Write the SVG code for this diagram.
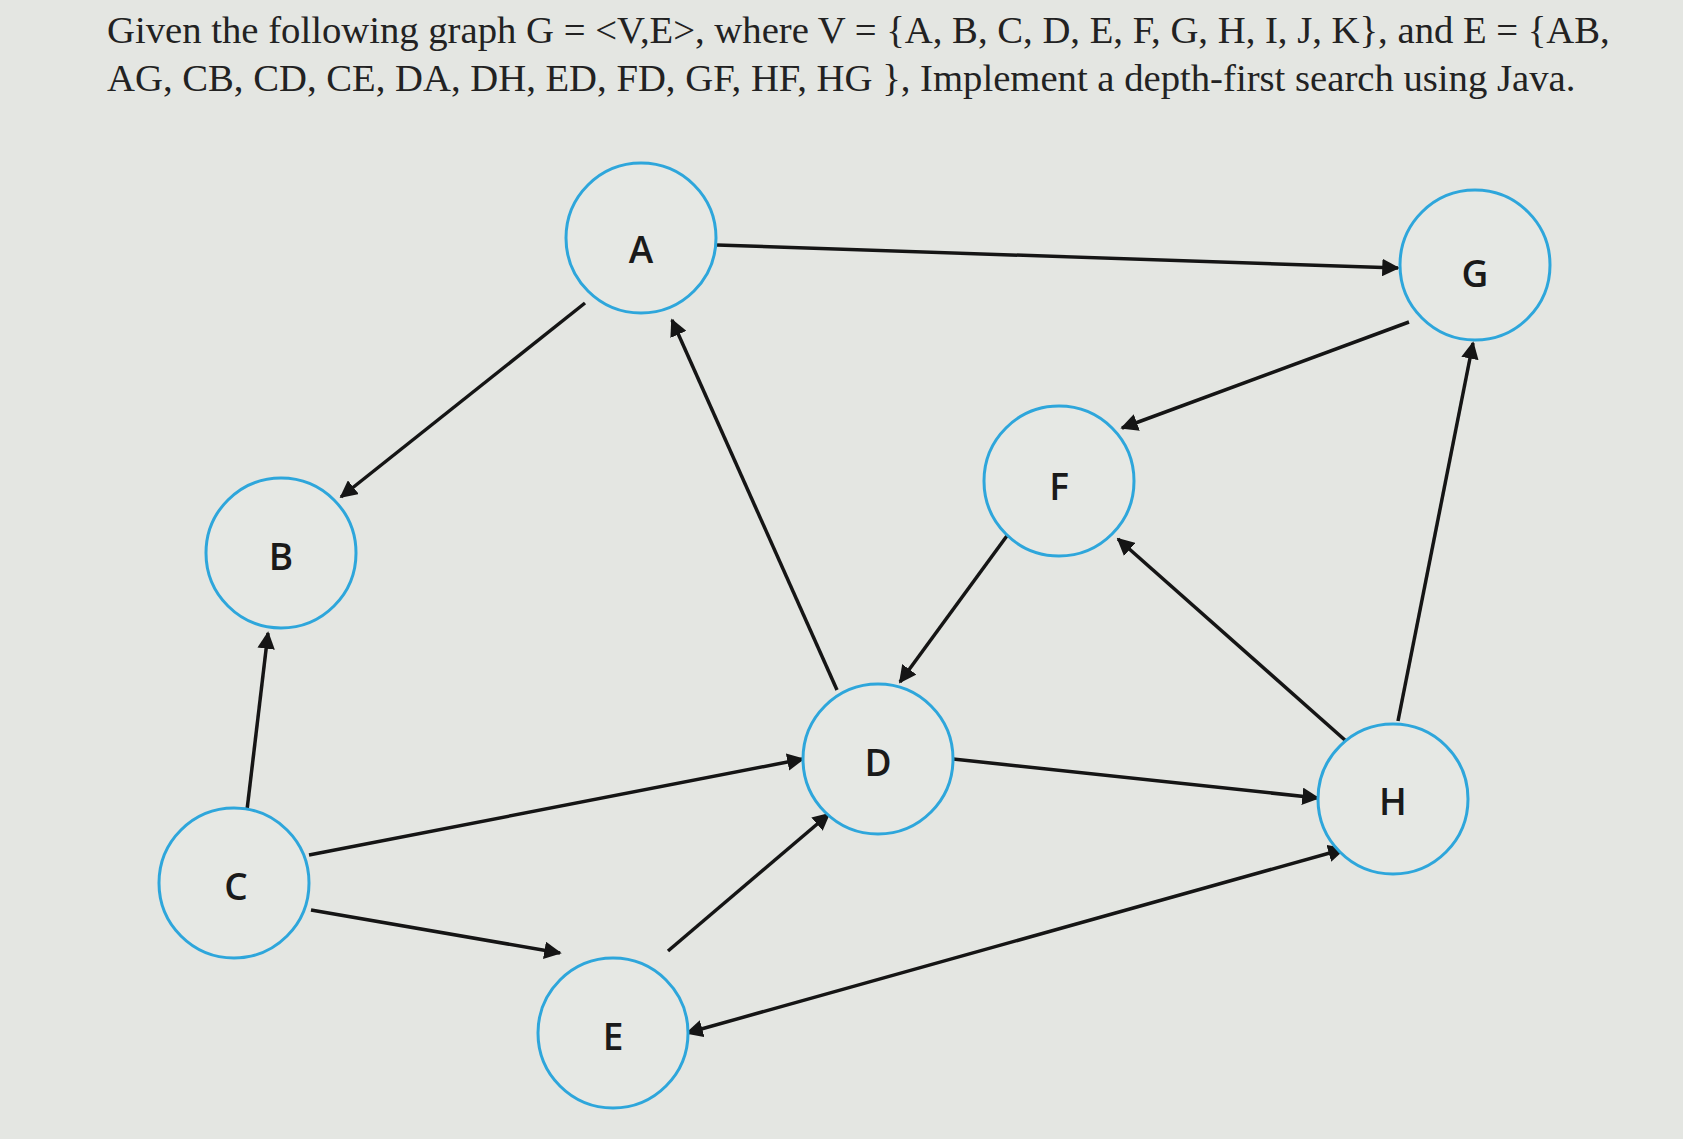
<svg xmlns="http://www.w3.org/2000/svg" width="1683" height="1139" viewBox="0 0 1683 1139">
<style>
.n{fill:#e6e8e4;stroke:#2ea6db;stroke-width:3}
.l{font-family:"Open Sans","DejaVu Sans",sans-serif;font-size:37px;font-weight:600;fill:#1a1a1a;text-anchor:middle;dominant-baseline:central}
.e{stroke:#151515;stroke-width:3.5;fill:none;marker-end:url(#ah)}
.t{font-family:"Liberation Serif",serif;font-size:38.7px;fill:#222}
</style>
<defs><marker id="ah" viewBox="0 0 10 10" refX="9" refY="5" markerWidth="5" markerHeight="5" orient="auto-start-reverse"><path d="M0,0L10,5L0,10z" fill="#151515"/></marker></defs>
<rect width="1683" height="1139" fill="#e4e6e2"/>
<text class="t" x="107" y="43">Given the following graph G = &lt;V,E&gt;, where V = {A, B, C, D, E, F, G, H, I, J, K}, and E = {AB,</text>
<text class="t" x="107" y="91">AG, CB, CD, CE, DA, DH, ED, FD, GF, HF, HG }, Implement a depth-first search using Java.</text>
<g id="connectors">
<line class="e" x1="585" y1="303" x2="341" y2="497"/>
<line class="e" x1="717" y1="245" x2="1398" y2="268"/>
<line class="e" x1="247" y1="810" x2="268" y2="633"/>
<line class="e" x1="309" y1="855" x2="803" y2="759"/>
<line class="e" x1="311" y1="910" x2="560" y2="953"/>
<line class="e" x1="837" y1="690" x2="672" y2="320"/>
<line class="e" x1="953" y1="759" x2="1318" y2="798"/>
<line class="e" x1="668" y1="951" x2="829" y2="814"/>
<line class="e" x1="1009" y1="533" x2="900" y2="682"/>
<line class="e" x1="1409" y1="322" x2="1122" y2="428"/>
<line class="e" x1="1346" y1="741" x2="1118" y2="539"/>
<line class="e" x1="1398" y1="721" x2="1473" y2="343"/>
<line class="e" x1="1344" y1="849" x2="687" y2="1033" marker-start="url(#ah)"/>
</g>
<g id="A"><circle class="n" cx="641" cy="238" r="75"/><text class="l" x="641" y="248">A</text></g>
<g id="G"><circle class="n" cx="1475" cy="265" r="75"/><text class="l" x="1475" y="272">G</text></g>
<g id="F"><circle class="n" cx="1059" cy="481" r="75"/><text class="l" x="1059" y="485">F</text></g>
<g id="B"><circle class="n" cx="281" cy="553" r="75"/><text class="l" x="281" y="555">B</text></g>
<g id="C"><circle class="n" cx="234" cy="883" r="75"/><text class="l" x="236" y="885">C</text></g>
<g id="D"><circle class="n" cx="878" cy="759" r="75"/><text class="l" x="878" y="761">D</text></g>
<g id="H"><circle class="n" cx="1393" cy="799" r="75"/><text class="l" x="1393" y="800">H</text></g>
<g id="E"><circle class="n" cx="613" cy="1033" r="75"/><text class="l" x="613" y="1035">E</text></g>
</svg>
